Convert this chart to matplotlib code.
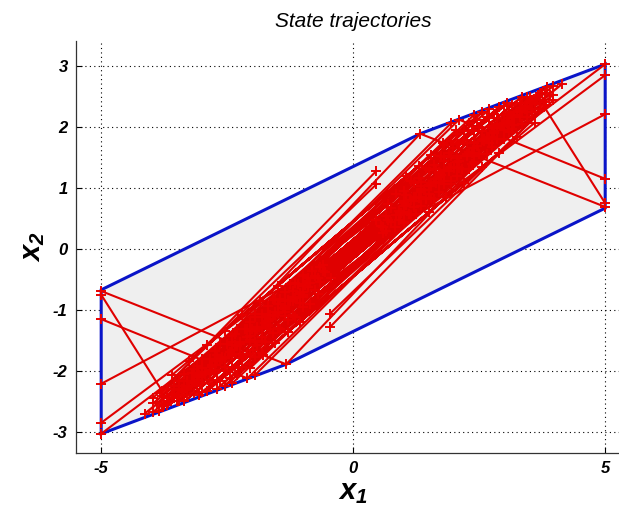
import matplotlib
matplotlib.use("Agg")
import matplotlib.pyplot as plt
from matplotlib.patches import Polygon

plt.rcParams["font.family"] = ["Liberation Sans", "DejaVu Sans"]
plt.rcParams["axes.unicode_minus"] = False
plt.rcParams["mathtext.fontset"] = "custom"
plt.rcParams["mathtext.it"] = "Liberation Sans:bold:italic"
plt.rcParams["mathtext.rm"] = "Liberation Sans:bold:italic"
plt.rcParams["mathtext.bf"] = "Liberation Sans:bold:italic"

# invariant set (polygon vertices)
poly_x = [-5.00, -1.33, 5.00, 5.00, 1.33, -5.00]
poly_y = [-3.03, -1.89, 0.67, 3.03, 1.89, -0.67]

# trajectories starting on the right edge of the set
from_right = [
    [(5.00, 3.03), (-4.14, -2.70), (3.67, 2.52), (-3.50, -2.50), (3.30, 2.26), (-3.10, -2.22),
     (2.95, 2.02), (-2.75, -1.98), (2.60, 1.77), (-2.40, -1.73), (2.25, 1.53), (-2.05, -1.49),
     (1.90, 1.28), (-1.70, -1.24), (1.55, 1.04), (-1.35, -0.99), (1.20, 0.79), (-1.00, -0.75),
     (0.85, 0.55)],
    [(5.00, 2.85), (-3.97, -2.67), (3.97, 2.53), (-3.00, -2.35), (3.55, 2.24), (-2.70, -2.14),
     (3.15, 1.96), (-2.40, -1.93), (2.75, 1.68), (-2.10, -1.72), (2.35, 1.40), (-1.80, -1.51),
     (1.95, 1.12), (-1.50, -1.30), (1.55, 0.84), (-1.20, -1.09), (1.15, 0.56)],
    [(5.00, 2.21), (-1.00, -0.42), (0.92, 0.55), (-0.82, -0.36), (0.75, 0.45), (-0.66, -0.30),
     (0.60, 0.36)],
    [(5.00, 1.15), (2.10, 2.12), (-3.65, -2.50), (3.45, 2.40), (-3.30, -2.28), (3.10, 2.15),
     (-2.95, -2.05), (2.75, 1.90), (-2.60, -1.80), (2.40, 1.66), (-2.25, -1.56), (2.05, 1.42),
     (-1.90, -1.32), (1.70, 1.18), (-1.55, -1.08), (1.35, 0.94), (-1.20, -0.84), (1.00, 0.70)],
    [(5.00, 0.75), (3.79, 2.33), (-2.70, -2.29), (3.70, 2.45), (-2.45, -2.12), (3.35, 2.25),
     (-2.20, -1.94), (3.00, 2.05), (-1.95, -1.77), (2.65, 1.80), (-1.80, -1.30), (1.60, 1.10),
     (-1.35, -0.95), (1.15, 0.80)],
    [(5.00, 0.69), (1.33, 1.89), (-3.60, -2.40), (3.30, 2.30), (-3.05, -2.10), (2.85, 1.98),
     (-2.55, -1.78), (2.40, 1.66), (-2.10, -1.45), (1.95, 1.35), (-1.65, -1.15), (1.50, 1.05),
     (-1.20, -0.85), (1.05, 0.74)],
]

# trajectories starting on the left edge of the set
from_left = [
    [(-5.00, -3.03), (4.14, 2.70), (-3.67, -2.52), (3.50, 2.50), (-3.30, -2.26), (3.10, 2.22),
     (-2.95, -2.02), (2.75, 1.98), (-2.60, -1.77), (2.40, 1.73), (-2.25, -1.53), (2.05, 1.49),
     (-1.90, -1.28), (1.70, 1.24), (-1.55, -1.04), (1.35, 0.99), (-1.20, -0.79), (1.00, 0.75),
     (-0.85, -0.55)],
    [(-5.00, -2.85), (3.97, 2.67), (-3.97, -2.53), (3.00, 2.35), (-3.55, -2.24), (2.70, 2.14),
     (-3.15, -1.96), (2.40, 1.93), (-2.75, -1.68), (2.10, 1.72), (-2.35, -1.40), (1.80, 1.51),
     (-1.95, -1.12), (1.50, 1.30), (-1.55, -0.84), (1.20, 1.09), (-1.15, -0.56)],
    [(-5.00, -2.21), (1.00, 0.42), (-0.92, -0.55), (0.82, 0.36), (-0.75, -0.45), (0.66, 0.30),
     (-0.60, -0.36)],
    [(-5.00, -1.15), (-2.10, -2.12), (3.65, 2.50), (-3.45, -2.40), (3.30, 2.28), (-3.10, -2.15),
     (2.95, 2.05), (-2.75, -1.90), (2.60, 1.80), (-2.40, -1.66), (2.25, 1.56), (-2.05, -1.42),
     (1.90, 1.32), (-1.70, -1.18), (1.55, 1.08), (-1.35, -0.94), (1.20, 0.84), (-1.00, -0.70)],
    [(-5.00, -0.75), (-3.79, -2.33), (2.70, 2.29), (-3.70, -2.45), (2.45, 2.12), (-3.35, -2.25),
     (2.20, 1.94), (-3.00, -2.05), (1.95, 1.77), (-2.65, -1.80), (1.80, 1.30), (-1.60, -1.10),
     (1.35, 0.95), (-1.15, -0.80)],
    [(-5.00, -0.69), (-1.33, -1.89), (3.60, 2.40), (-3.30, -2.30), (3.05, 2.10), (-2.85, -1.98),
     (2.55, 1.78), (-2.40, -1.66), (2.10, 1.45), (-1.95, -1.35), (1.65, 1.15), (-1.50, -1.05),
     (1.20, 0.85), (-1.05, -0.74)],
]

# long oscillations along the diagonal band
band = [
    [(-3.60, -2.37), (3.35, 2.50), (-3.30, -2.16), (3.15, 2.36), (-3.00, -1.95), (2.85, 2.15),
     (-2.70, -1.74), (2.55, 1.94), (-2.40, -1.53), (2.25, 1.73), (-2.10, -1.32), (1.95, 1.52),
     (-1.80, -1.11), (1.65, 1.31), (-1.50, -0.90), (1.35, 1.10), (-1.20, -0.69), (1.05, 0.89),
     (-0.90, -0.48), (0.75, 0.68), (-0.60, -0.27), (0.45, 0.47)],
    [(3.60, 2.37), (-3.35, -2.50), (3.30, 2.16), (-3.15, -2.36), (3.00, 1.95), (-2.85, -2.15),
     (2.70, 1.74), (-2.55, -1.94), (2.40, 1.53), (-2.25, -1.73), (2.10, 1.32), (-1.95, -1.52),
     (1.80, 1.11), (-1.65, -1.31), (1.50, 0.90), (-1.35, -1.10), (1.20, 0.69), (-1.05, -0.89),
     (0.90, 0.48), (-0.75, -0.68), (0.60, 0.27), (-0.45, -0.47)],
    [(-3.85, -2.66), (3.70, 2.55), (-3.50, -2.42), (3.35, 2.31), (-3.15, -2.17), (3.00, 2.07),
     (-2.80, -1.93), (2.65, 1.83), (-2.45, -1.69), (2.30, 1.59), (-2.10, -1.45), (1.95, 1.35),
     (-1.75, -1.21), (1.60, 1.10), (-1.40, -0.97), (1.25, 0.86), (-1.05, -0.72), (0.90, 0.62),
     (-0.70, -0.48), (0.55, 0.38)],
    [(3.85, 2.66), (-3.70, -2.55), (3.50, 2.42), (-3.35, -2.31), (3.15, 2.17), (-3.00, -2.07),
     (2.80, 1.93), (-2.65, -1.83), (2.45, 1.69), (-2.30, -1.59), (2.10, 1.45), (-1.95, -1.35),
     (1.75, 1.21), (-1.60, -1.10), (1.40, 0.97), (-1.25, -0.86), (1.05, 0.72), (-0.90, -0.62),
     (0.70, 0.48), (-0.55, -0.38)],
    [(-3.70, -2.29), (2.90, 2.33), (-3.35, -2.05), (2.65, 2.16), (-3.00, -1.80), (2.35, 1.95),
     (-2.65, -1.56), (2.05, 1.74), (-2.30, -1.31), (1.75, 1.53), (-1.95, -1.07), (1.45, 1.32),
     (-1.60, -0.82), (1.15, 1.11), (-1.25, -0.58), (0.85, 0.90)],
    [(3.70, 2.29), (-2.90, -2.33), (3.35, 2.05), (-2.65, -2.16), (3.00, 1.80), (-2.35, -1.95),
     (2.65, 1.56), (-2.05, -1.74), (2.30, 1.31), (-1.75, -1.53), (1.95, 1.07), (-1.45, -1.32),
     (1.60, 0.82), (-1.15, -1.11), (1.25, 0.58), (-0.85, -0.90)],
    [(-3.60, -2.07), (2.55, 2.24), (-3.25, -1.83), (2.30, 2.06), (-2.90, -1.58), (2.05, 1.89),
     (-2.55, -1.34), (1.80, 1.71), (-2.20, -1.09), (1.55, 1.54), (-1.85, -0.85), (1.30, 1.36),
     (-1.50, -0.60), (1.05, 1.19)],
    [(3.60, 2.07), (-2.55, -2.24), (3.25, 1.83), (-2.30, -2.06), (2.90, 1.58), (-2.05, -1.89),
     (2.55, 1.34), (-1.80, -1.71), (2.20, 1.09), (-1.55, -1.54), (1.85, 0.85), (-1.30, -1.36),
     (1.50, 0.60), (-1.05, -1.19)],
    [(-3.75, -2.55), (3.45, 2.50), (-3.40, -2.30), (3.10, 2.25), (-3.05, -2.06), (2.75, 2.01),
     (-2.70, -1.81), (2.40, 1.76), (-2.35, -1.57), (2.05, 1.52), (-2.00, -1.32), (1.70, 1.27),
     (-1.65, -1.08), (1.35, 1.03), (-1.30, -0.83), (1.00, 0.78), (-0.95, -0.59), (0.65, 0.54)],
    [(3.75, 2.55), (-3.45, -2.50), (3.40, 2.30), (-3.10, -2.25), (3.05, 2.06), (-2.75, -2.01),
     (2.70, 1.81), (-2.40, -1.76), (2.35, 1.57), (-2.05, -1.52), (2.00, 1.32), (-1.70, -1.27),
     (1.65, 1.08), (-1.35, -1.03), (1.30, 0.83), (-1.00, -0.78), (0.95, 0.59), (-0.65, -0.54)],
    [(-3.80, -2.41), (3.05, 2.39), (-3.45, -2.17), (2.80, 2.21), (-3.10, -1.92), (2.50, 2.00),
     (-2.75, -1.68), (2.20, 1.79), (-2.40, -1.43), (1.90, 1.58), (-2.05, -1.19), (1.60, 1.37),
     (-1.70, -0.94), (1.30, 1.16), (-1.35, -0.70), (1.00, 0.95), (-1.00, -0.45), (0.70, 0.74)],
    [(3.80, 2.41), (-3.05, -2.39), (3.45, 2.17), (-2.80, -2.21), (3.10, 1.92), (-2.50, -2.00),
     (2.75, 1.68), (-2.20, -1.79), (2.40, 1.43), (-1.90, -1.58), (2.05, 1.19), (-1.60, -1.37),
     (1.70, 0.94), (-1.30, -1.16), (1.35, 0.70), (-1.00, -0.95), (1.00, 0.45), (-0.70, -0.74)],
    [(-3.90, -2.53), (3.80, 2.56), (-3.55, -2.29), (3.45, 2.32), (-3.20, -2.04), (3.10, 2.07),
     (-2.85, -1.80), (2.75, 1.83), (-2.50, -1.55), (2.40, 1.58), (-2.15, -1.31), (2.05, 1.34),
     (-1.80, -1.06), (1.70, 1.09), (-1.45, -0.82), (1.35, 0.85), (-1.10, -0.57), (1.00, 0.60)],
    [(3.90, 2.53), (-3.80, -2.56), (3.55, 2.29), (-3.45, -2.32), (3.20, 2.04), (-3.10, -2.07),
     (2.85, 1.80), (-2.75, -1.83), (2.50, 1.55), (-2.40, -1.58), (2.15, 1.31), (-2.05, -1.34),
     (1.80, 1.06), (-1.70, -1.09), (1.45, 0.82), (-1.35, -0.85), (1.10, 0.57), (-1.00, -0.60)],
]

# short trajectories starting from the clusters near the edges
fan = [
    [(1.94, 2.06), (-3.55, -2.45), (3.40, 2.35), (-3.20, -2.20)],
    [(-1.94, -2.06), (3.55, 2.45), (-3.40, -2.35), (3.20, 2.20)],
    [(2.40, 2.20), (-3.75, -2.55), (3.55, 2.45), (-3.25, -2.25)],
    [(-2.40, -2.20), (3.75, 2.55), (-3.55, -2.45), (3.25, 2.25)],
    [(2.04, 1.95), (-3.40, -2.30), (3.20, 2.20)],
    [(-2.04, -1.95), (3.40, 2.30), (-3.20, -2.20)],
    [(2.18, 1.75), (-3.30, -2.40), (3.10, 2.10)],
    [(-2.18, -1.75), (3.30, 2.40), (-3.10, -2.10)],
    [(1.79, 1.74), (-3.10, -2.15), (2.95, 2.05)],
    [(-1.79, -1.74), (3.10, 2.15), (-2.95, -2.05)],
    [(1.98, 1.66), (-3.00, -2.20), (2.80, 1.90)],
    [(-1.98, -1.66), (3.00, 2.20), (-2.80, -1.90)],
    [(1.81, 1.45), (-2.85, -2.05), (2.70, 1.80)],
    [(-1.81, -1.45), (2.85, 2.05), (-2.70, -1.80)],
    [(-3.83, -2.36), (0.46, 1.28)],
    [(3.83, 2.36), (-0.46, -1.28)],
    [(-3.97, -2.44), (0.46, 1.06)],
    [(3.97, 2.44), (-0.46, -1.06)],
]

x_ticks = [-5, 0, 5]
y_ticks = [-3, -2, -1, 0, 1, 2, 3]

fig = plt.figure(figsize=(6.19, 5.15), dpi=100)
ax = fig.add_axes([76 / 619, 62 / 515, 554.4 / 619, 412 / 515])
ax.set_xlim(-5.5, 5.5)
ax.set_ylim(-3.345, 3.41)

ax.grid(True, color="black", linestyle=(0, (1, 3)), linewidth=0.8)
ax.set_axisbelow(True)

ax.add_patch(Polygon(list(zip(poly_x, poly_y)), closed=True, facecolor="#efefef",
                     edgecolor="#0a14c8", linewidth=2.2, zorder=2))

for traj in from_right + from_left + band + fan:
    xs = [p[0] for p in traj]
    ys = [p[1] for p in traj]
    ax.plot(xs, ys, "-", color="#e00000", linewidth=1.5, zorder=3)
    ax.plot(xs, ys, "+", color="#e80000", markersize=7, markeredgewidth=1.4, zorder=4)

for side in ("top", "right"):
    ax.spines[side].set_visible(False)
for side in ("left", "bottom"):
    ax.spines[side].set_color("#333333")
    ax.spines[side].set_linewidth(0.9)

ax.set_xticks(x_ticks)
ax.set_yticks(y_ticks)
ax.tick_params(direction="in", length=4, width=0.8, pad=6)
for lab in ax.get_xticklabels() + ax.get_yticklabels():
    lab.set_fontsize(12)
    lab.set_fontweight("bold")
    lab.set_fontstyle("italic")

ax.set_title("State trajectories", fontsize=15, fontstyle="italic", pad=10)
ax.set_xlabel(r"$x_1$", fontsize=21, labelpad=0)
ax.set_ylabel(r"$x_2$", fontsize=21, labelpad=4)
ax.xaxis.set_label_coords(0.5, -0.06)

fig.savefig("out.png", dpi=100)
